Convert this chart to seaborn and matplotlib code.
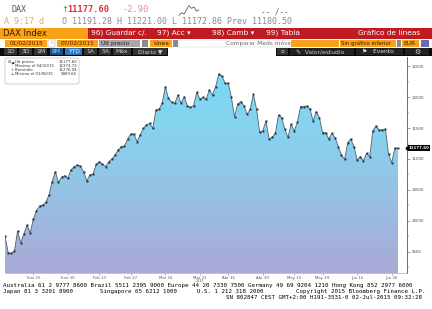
import numpy as np
import matplotlib
matplotlib.use("Agg")
import matplotlib.pyplot as plt
import seaborn as sns
from matplotlib.patches import Rectangle, FancyBboxPatch
from matplotlib.colors import LinearSegmentedColormap
from matplotlib.transforms import blended_transform_factory
from matplotlib.ticker import FixedLocator, MultipleLocator

sns.set_theme(style="white")
plt.rcParams['font.family'] = ['DejaVu Sans']

# ---------------- data ----------------
prices = [9757, 9482, 9470, 9510, 9834, 9644, 9785, 9931, 9806, 10023,
          10163, 10239, 10255, 10299, 10417, 10633, 10795, 10623, 10704, 10729,
          10687, 10822, 10875, 10903, 10887, 10794, 10648, 10741, 10752, 10914,
          10956, 10919, 10875, 10956, 11000, 11065, 11146, 11199, 11211, 11319,
          11405, 11405, 11280, 11389, 11497, 11551, 11578, 11497, 11794, 11805,
          11902, 12171, 11983, 11919, 11902, 12037, 11902, 12009, 11859, 11838,
          11864, 12080, 11967, 12000, 11967, 12118, 12037, 12171, 12375, 12345,
          12226, 12226, 12000, 11685, 11891, 11928, 11864, 11724, 11805, 12048,
          11810, 11433, 11459, 11616, 11324, 11352, 11416, 11713, 11669, 11481,
          11352, 11562, 11454, 11594, 11847, 11847, 11859, 11810, 11616, 11767,
          11669, 11426, 11426, 11324, 11416, 11345, 11199, 11065, 10995, 11264,
          11324, 11199, 10984, 11037, 10972, 11092, 11037, 11454, 11535, 11470,
          11470, 11486, 11076, 10940, 11173, 11177.6]
day_index = list(range(len(prices)))
tick_positions = [9, 20, 30, 40, 51, 62, 71, 82, 92, 101, 112, 123]
tick_labels = ["Ene 15", "Ene 30", "Feb 13", "Feb 27", "Mar 16", "Mar 31",
               "Abr 15", "Abr 30", "May 15", "May 29", "Jun 15", "Jun 30"]
y_ticks = [9500, 10000, 10500, 11000, 11500, 12000, 12500]
legend_names = ["Últ precio", "Máximo el 04/10/15", "Promedio", "Mínimo el 01/06/15"]
legend_values = ["11177.60", "12374.73", "11276.04", "9469.66"]
legend_marks = ["▪", "⊤", "+", "⊥"]
last_price = 11177.60
intraday = [11180, 11190, 11185, 11200, 11215, 11205, 11210, 11195, 11200]

W, H = 432, 309
fig = plt.figure(figsize=(W / 100, H / 100), dpi=100)
fig.patch.set_facecolor("white")


def R(x0, y0, x1, y1, fc, ec="none", lw=0, z=1):
    fig.add_artist(Rectangle((x0 / W, 1 - y1 / H), (x1 - x0) / W, (y1 - y0) / H,
                             transform=fig.transFigure, facecolor=fc,
                             edgecolor=ec, lw=lw, zorder=z))


def T(x, y, s, **kw):
    kw.setdefault("va", "center")
    fig.text(x / W, 1 - y / H, s, **kw)


MONO = "DejaVu Sans Mono"
ORANGE = "#f7a21b"
RED = "#c01a22"

# ---------------- header row 1 ----------------
T(12, 10, "DAX", family=MONO, fontsize=6, color="#555555")
T(61, 10, "↑", fontsize=6, color="#2f9a3a")
T(67, 10, "11177.60", family=MONO, fontsize=6.3, color="#e0323c", weight="bold")
T(122, 10, "-2.90", family=MONO, fontsize=6.3, color="#e88a90")
T(261, 12, "-- /--", family=MONO, fontsize=5.5, color="#666666")
T(4, 21.5, "A 9:17 d", family=MONO, fontsize=6, color="#e8a860")
T(62, 21.5, "O 11191.28 H 11221.00 L 11172.86 Prev 11180.50",
  family=MONO, fontsize=6, color="#8a8a8a")
spark = fig.add_axes([178 / W, 1 - 16 / H, 22 / W, 11 / H])
spark.plot(range(len(intraday)), intraday, color="#444444", lw=0.5)
spark.axis("off")

# ---------------- header row 2 ----------------
R(0, 28, 88, 38.5, ORANGE)
R(88, 28, 432, 38.5, RED)
T(3, 33.2, "DAX Index", fontsize=6, color="#3a1600")
T(91, 33.2, "96) Guardar c/.", fontsize=5.3, color="white")
T(157, 33.2, "97) Acc ▾", fontsize=5.3, color="white")
T(212, 33.2, "98) Camb ▾", fontsize=5.3, color="white")
T(266, 33.2, "99) Tabla", fontsize=5.3, color="white")
T(420, 33.2, "Gráfico de líneas", fontsize=5.3, color="white", ha="right")

# ---------------- header row 3 ----------------
ry0, ry1, ryc = 39.5, 46.5, 43.1
R(5, ry0, 47, ry1, ORANGE)
T(26, ryc, "01/02/2015", fontsize=4.2, color="#5a1a00", ha="center")
R(48, ry0, 55, ry1, "white", ec="#999999", lw=0.3)
T(51.5, ryc, "-", fontsize=4.2, color="#333333", ha="center")
R(57, ry0, 98, ry1, ORANGE)
T(77.5, ryc, "07/02/2015", fontsize=4.2, color="#5a1a00", ha="center")
R(99, ry0, 140, ry1, "#a8a8a8")
T(101, ryc, "Últ precio", fontsize=4.2, color="#222222")
R(142, ry0, 148, ry1, "#8a8a8a")
R(150, ry0, 172, ry1, ORANGE)
T(153, ryc, "Línea", fontsize=4.2, color="#3a1600")
R(173, ry0, 178, ry1, "#8a8a8a")
R(179, ry0, 289, ry1, "white", ec="#cccccc", lw=0.3)
T(226, ryc, "Comparar Meds móvs", fontsize=4.2, color="#666666")
R(291, ry0, 339, ry1, ORANGE)
for xx in (307, 323, 339):
    R(xx - 0.4, ry0, xx + 0.4, ry1, "#7a4a00")
R(339.5, ry0, 396, ry1, ORANGE)
T(341, ryc, "Sin gráfico inferior", fontsize=3.9, color="#3a1600")
R(396.5, ry0, 401, ry1, "#8a8a8a")
R(401.5, ry0, 419, ry1, ORANGE)
T(403, ryc, "EUR", fontsize=4.2, color="#3a1600")
R(421, ry0, 429, ry1, "#6a6ab0")

# ---------------- header row 4 ----------------
by0, by1, byc = 47.5, 55.8, 51.7
R(0, by0, 168, by1, "#0a0a0a")
R(276, by0, 432, by1, "#0a0a0a")
buttons = [("1D", 4, 17), ("3D", 19, 32), ("1M", 34, 47), ("6M", 50, 63),
           ("YTD", 65, 82), ("1A", 84, 97), ("5A", 99, 111), ("Máx", 113, 131),
           ("Diario ▼", 133, 167)]
for lab, x0, x1 in buttons:
    fc = "#333333"
    tc = "#cfcfcf"
    if lab == "6M":
        fc, tc = "#1d4f82", "#9fd0ff"
    if lab == "YTD":
        fc, tc = "#2f72c0", "white"
    R(x0, by0 + 0.8, x1, by1 - 0.8, fc)
    T((x0 + x1) / 2, byc, lab, fontsize=4.3, color=tc, ha="center")
R(277, by0 + 0.8, 288, by1 - 0.8, "#333333")
T(282.5, byc, "▫", fontsize=4, color="#cfcfcf", ha="center")
R(290, by0 + 0.8, 354, by1 - 0.8, "#222222")
T(296, byc, "✎  Valor/estudio", fontsize=4.3, color="#cfcfcf")
R(356, by0 + 0.8, 403, by1 - 0.8, "#222222")
T(362, byc, "⚑   Evento", fontsize=4.3, color="#e0e0e0")
R(405, by0 + 0.8, 429, by1 - 0.8, "#222222")
T(417, byc, "⚙", fontsize=5, color="#cfcfcf", ha="center")

# ---------------- main chart ----------------
ax_left, ax_right, ax_top, ax_bottom = 5, 407, 57, 273
ax = fig.add_axes([ax_left / W, 1 - ax_bottom / H, (ax_right - ax_left) / W,
                   (ax_bottom - ax_top) / H])
ax.set_facecolor("white")
x_max = (len(prices) - 1) * (ax_right - ax_left) / (398 - ax_left)
y_lo, y_hi = 9153, 12652
ax.set_xlim(0, x_max)
ax.set_ylim(y_lo, y_hi)

poly = ax.fill_between(day_index, prices, y_lo, color="none", lw=0)
cmap = LinearSegmentedColormap.from_list(
    "bbg", ["#76d9f3", "#86d3ef", "#98bfe2", "#aaa9d6"])
grad = np.linspace(0, 1, 256).reshape(-1, 1)
im = ax.imshow(grad, extent=[0, day_index[-1], y_lo, y_hi], aspect="auto",
               cmap=cmap, origin="upper", zorder=1, interpolation="bilinear")
im.set_clip_path(poly.get_paths()[0], transform=ax.transData)

sns.lineplot(x=day_index, y=prices, ax=ax, color="#50606e", lw=0.6,
             marker="s", markersize=1.4, markeredgewidth=0,
             markerfacecolor="#1c2c3c", zorder=3)

for s in ("top", "left"):
    ax.spines[s].set_visible(False)
ax.spines["right"].set_color("#555555")
ax.spines["right"].set_linewidth(0.6)
ax.spines["bottom"].set_color("#999999")
ax.spines["bottom"].set_linewidth(0.4)

ax.yaxis.tick_right()
ax.set_yticks(y_ticks)
ax.set_yticklabels([str(v) for v in y_ticks])
ax.yaxis.set_minor_locator(MultipleLocator(250))
ax.tick_params(axis="y", which="major", right=True, length=2.2, width=0.4,
               color="#555555", labelsize=2.8, labelcolor="#444444", pad=1.2)
ax.tick_params(axis="y", which="minor", right=True, length=1.2, width=0.3,
               color="#555555")

ax.set_xticks(tick_positions)
ax.set_xticklabels(tick_labels)
mids = [(a + b) / 2 for a, b in zip([0] + tick_positions[:-1], tick_positions)]
ax.xaxis.set_minor_locator(FixedLocator(mids))
ax.tick_params(axis="x", which="major", bottom=True, length=1.3, width=0.4,
               color="#777777", labelsize=2.8, labelcolor="#555555", pad=0.6)
ax.tick_params(axis="x", which="minor", bottom=True, length=0.9, width=0.3,
               color="#777777")
ax.set_xlabel("")
ax.set_ylabel("")
ax.grid(False)
ax.text(62, -0.03, "2015", transform=blended_transform_factory(ax.transData, ax.transAxes),
        fontsize=2.4, color="#555555", ha="center", va="top")

# last price tag
tr = blended_transform_factory(ax.transAxes, ax.transData)
ax.plot([1.0], [last_price], marker="o", markersize=1.6, color="black",
        transform=tr, clip_on=False, zorder=5)
ax.text(1.004, last_price, "11177.60", transform=tr, fontsize=2.9,
        color="white", va="center", ha="left", weight="bold",
        bbox=dict(boxstyle="square,pad=0.25", fc="black", ec="black", lw=0),
        zorder=6)

# legend box
fig.add_artist(FancyBboxPatch((5 / W, 1 - 84 / H), 74 / W, 26 / H,
                              boxstyle="round,pad=0,rounding_size=0.006",
                              transform=fig.transFigure, facecolor="white",
                              edgecolor="#aaaaaa", lw=0.4, zorder=4))
T(8, 62, "⊟", fontsize=2.8, color="#555555", zorder=5)
for i, (nm, vv, mk) in enumerate(zip(legend_names, legend_values, legend_marks)):
    yy = 62 + i * 4.1
    T(12.5, yy, mk, fontsize=2.8, color="#333333", ha="center", zorder=5)
    T(15, yy, nm, fontsize=2.8, color="#333333", zorder=5)
    T(77, yy, vv, fontsize=2.8, color="#333333", ha="right", zorder=5)

# ---------------- footer ----------------
FS = 4.15
T(3, 286, "Australia 61 2 9777 8600 Brazil 5511 2395 9000 Europe 44 20 7330 7500 "
  "Germany 49 69 9204 1210 Hong Kong 852 2977 6000",
  family=MONO, fontsize=FS + 0.1, color="black")
T(3, 291.6, "Japan 81 3 3201 8900", family=MONO, fontsize=FS, color="black")
T(100, 291.6, "Singapore 65 6212 1000", family=MONO, fontsize=FS, color="black")
T(197, 291.6, "U.S. 1 212 318 2000", family=MONO, fontsize=FS, color="black")
T(426, 291.6, "Copyright 2015 Bloomberg Finance L.P.", family=MONO, fontsize=FS,
  color="black", ha="right")
T(422, 297.2, "SN 802847 CEST GMT+2:00 H191-3531-0 02-Jul-2015 09:32:28",
  family=MONO, fontsize=FS, color="black", ha="right")

fig.savefig("out.png", dpi=100, facecolor="white")
